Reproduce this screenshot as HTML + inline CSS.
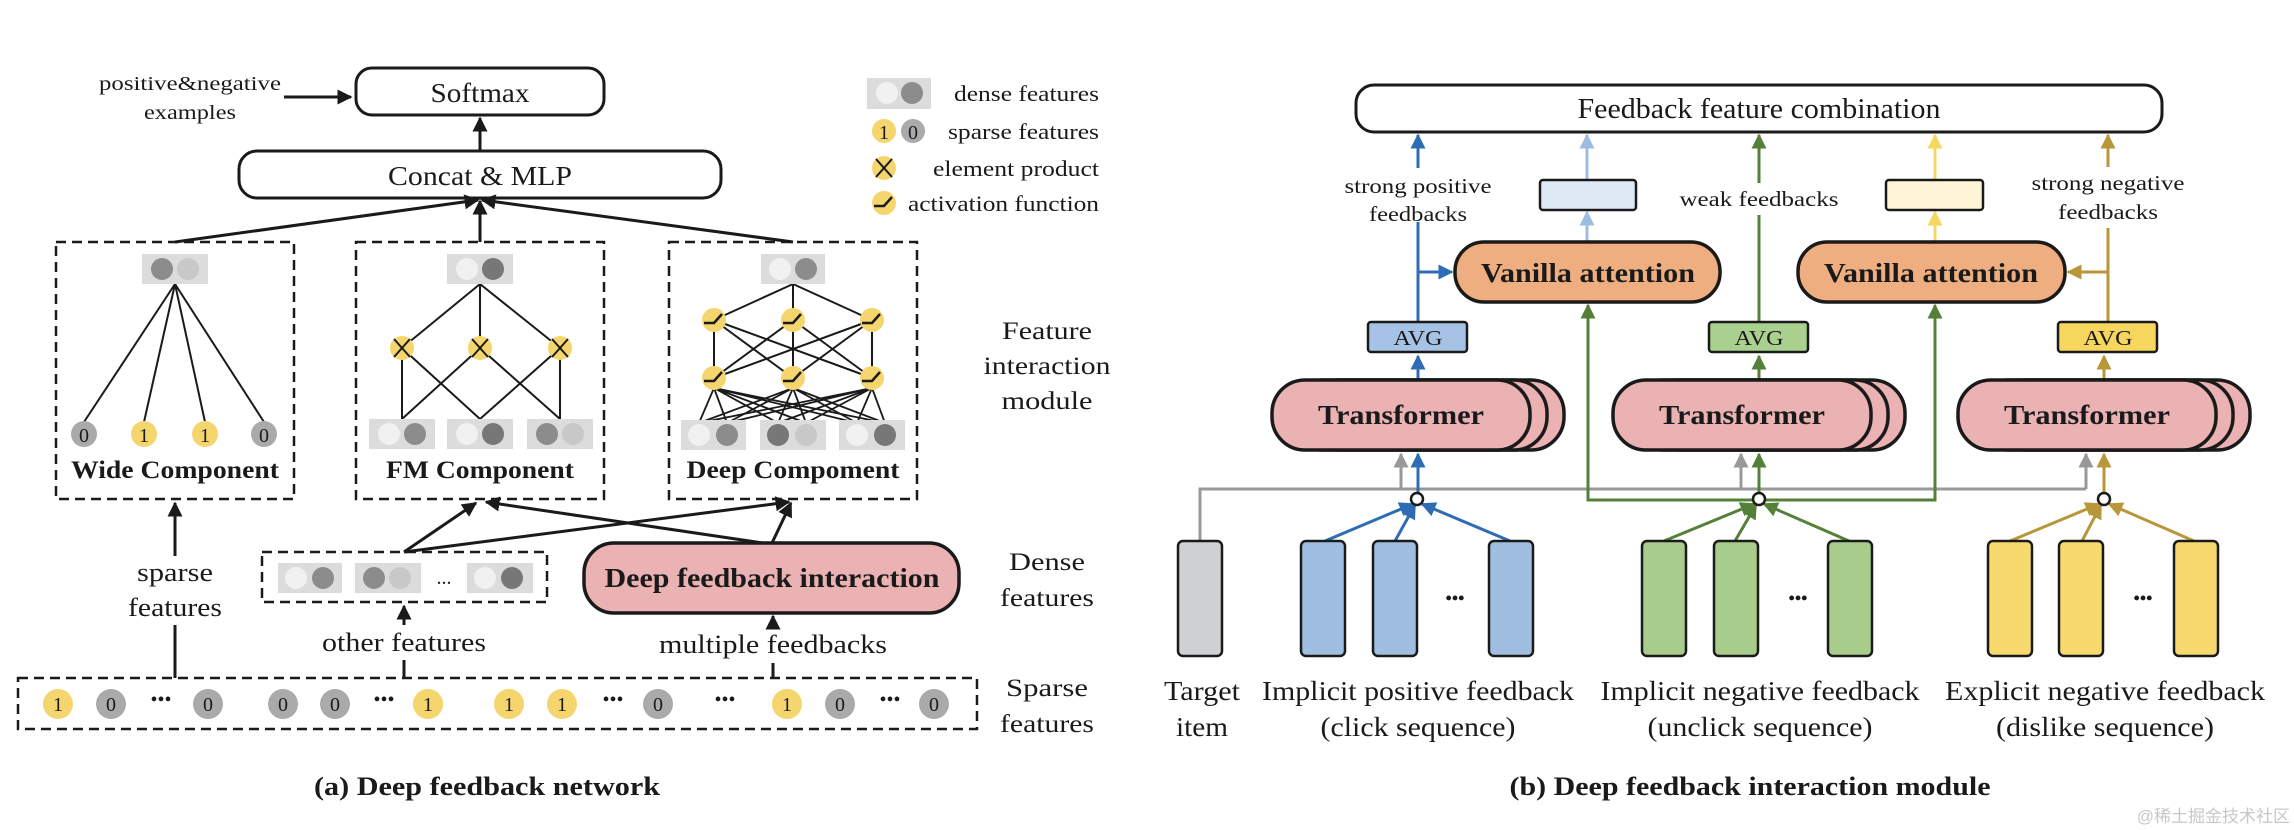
<!DOCTYPE html>
<html><head><meta charset="utf-8"><style>
html,body{margin:0;padding:0;background:#fff;}
svg{display:block;}
text{font-family:"Liberation Serif",serif;fill:#1a1a1a;}
.b{font-weight:bold;}
</style></head><body>
<svg width="2294" height="830" viewBox="0 0 2294 830" xmlns="http://www.w3.org/2000/svg">
<defs>
<marker id="mk" viewBox="0 0 10 10" refX="9" refY="5" markerWidth="5" markerHeight="5" orient="auto"><path d="M0,0 L10,5 L0,10 z" fill="#1a1a1a"/></marker>
<marker id="mbl" viewBox="0 0 10 10" refX="9" refY="5" markerWidth="5" markerHeight="5" orient="auto"><path d="M0,0 L10,5 L0,10 z" fill="#2e6db4"/></marker>
<marker id="mlb" viewBox="0 0 10 10" refX="9" refY="5" markerWidth="5" markerHeight="5" orient="auto"><path d="M0,0 L10,5 L0,10 z" fill="#9dbde0"/></marker>
<marker id="mgr" viewBox="0 0 10 10" refX="9" refY="5" markerWidth="5" markerHeight="5" orient="auto"><path d="M0,0 L10,5 L0,10 z" fill="#55803a"/></marker>
<marker id="mgo" viewBox="0 0 10 10" refX="9" refY="5" markerWidth="5" markerHeight="5" orient="auto"><path d="M0,0 L10,5 L0,10 z" fill="#b8963a"/></marker>
<marker id="mpy" viewBox="0 0 10 10" refX="9" refY="5" markerWidth="5" markerHeight="5" orient="auto"><path d="M0,0 L10,5 L0,10 z" fill="#f5d862"/></marker>
<marker id="mgy" viewBox="0 0 10 10" refX="9" refY="5" markerWidth="5" markerHeight="5" orient="auto"><path d="M0,0 L10,5 L0,10 z" fill="#999"/></marker>
<g id="act"><circle r="12" fill="#f5d56e"/><path d="M-10,3 L0,3 L8,-6" stroke="#1a1a1a" stroke-width="2.5" fill="none"/></g>
<g id="xn"><circle r="12" fill="#f5d56e"/><path d="M-8,-9 L8,9 M8,-9 L-8,9" stroke="#1a1a1a" stroke-width="2" fill="none"/></g>
</defs>

<!-- ============ LEFT PANEL ============ -->
<g stroke="#1a1a1a" stroke-width="3" fill="none">
<rect x="356" y="68" width="248" height="47" rx="16" fill="#fff"/>
<rect x="239" y="151" width="482" height="47" rx="18" fill="#fff"/>
<line x1="480" y1="151" x2="480" y2="118" marker-end="url(#mk)"/>
<line x1="284" y1="97" x2="351" y2="97" marker-end="url(#mk)"/>
<line x1="175" y1="242" x2="478" y2="200" marker-end="url(#mk)"/>
<line x1="480" y1="242" x2="480" y2="201" marker-end="url(#mk)"/>
<line x1="793" y1="242" x2="482" y2="200" marker-end="url(#mk)"/>
</g>
<text x="480" y="102" font-size="27" text-anchor="middle" textLength="99" lengthAdjust="spacingAndGlyphs">Softmax</text>
<text x="480" y="185" font-size="27" text-anchor="middle" textLength="184" lengthAdjust="spacingAndGlyphs">Concat &amp; MLP</text>
<text x="190" y="90" font-size="20" text-anchor="middle" textLength="182" lengthAdjust="spacingAndGlyphs">positive&amp;negative</text>
<text x="190" y="119" font-size="20" text-anchor="middle" textLength="92" lengthAdjust="spacingAndGlyphs">examples</text>

<!-- legend -->
<rect x="867" y="78" width="64" height="31" fill="#dcdcdc"/>
<circle cx="887" cy="93" r="11" fill="#f1f1f1"/><circle cx="912" cy="93" r="11" fill="#8c8c8c"/>
<circle cx="884" cy="131" r="12" fill="#f5d56e"/><text x="884" y="139" font-size="20" text-anchor="middle">1</text>
<circle cx="913" cy="131" r="12" fill="#aaa"/><text x="913" y="139" font-size="20" text-anchor="middle">0</text>
<use href="#xn" x="884" y="168"/>
<use href="#act" x="884" y="203"/>
<text x="1099" y="101" font-size="22" text-anchor="end" textLength="145" lengthAdjust="spacingAndGlyphs">dense features</text>
<text x="1099" y="139" font-size="22" text-anchor="end" textLength="151" lengthAdjust="spacingAndGlyphs">sparse features</text>
<text x="1099" y="176" font-size="22" text-anchor="end" textLength="166" lengthAdjust="spacingAndGlyphs">element product</text>
<text x="1099" y="211" font-size="22" text-anchor="end" textLength="191" lengthAdjust="spacingAndGlyphs">activation function</text>

<!-- component boxes -->
<g stroke="#1a1a1a" stroke-width="2.5" fill="none" stroke-dasharray="10,6">
<rect x="56" y="242" width="238" height="257"/>
<rect x="356" y="242" width="248" height="257"/>
<rect x="669" y="242" width="248" height="257"/>
</g>

<!-- Wide -->
<g stroke="#1a1a1a" stroke-width="2" fill="none">
<line x1="175" y1="284" x2="84" y2="422"/><line x1="175" y1="284" x2="144" y2="422"/>
<line x1="175" y1="284" x2="205" y2="422"/><line x1="175" y1="284" x2="264" y2="422"/>
</g>
<rect x="142" y="254" width="66" height="30" fill="#dcdcdc"/>
<circle cx="162" cy="269" r="11" fill="#8c8c8c"/><circle cx="188" cy="269" r="11" fill="#c8c8c8"/>
<circle cx="84" cy="434" r="13" fill="#aaa"/><text x="84" y="442" font-size="20" text-anchor="middle">0</text>
<circle cx="144" cy="434" r="13" fill="#f5d56e"/><text x="144" y="442" font-size="20" text-anchor="middle">1</text>
<circle cx="205" cy="434" r="13" fill="#f5d56e"/><text x="205" y="442" font-size="20" text-anchor="middle">1</text>
<circle cx="264" cy="434" r="13" fill="#aaa"/><text x="264" y="442" font-size="20" text-anchor="middle">0</text>
<text x="175" y="478" font-size="25" class="b" text-anchor="middle" textLength="208" lengthAdjust="spacingAndGlyphs">Wide Component</text>

<!-- FM -->
<g stroke="#1a1a1a" stroke-width="2" fill="none">
<line x1="480" y1="284" x2="402" y2="348"/><line x1="480" y1="284" x2="480" y2="348"/><line x1="480" y1="284" x2="560" y2="348"/>
<line x1="402" y1="348" x2="402" y2="419"/><line x1="402" y1="348" x2="480" y2="419"/>
<line x1="480" y1="348" x2="402" y2="419"/><line x1="480" y1="348" x2="560" y2="419"/>
<line x1="560" y1="348" x2="560" y2="419"/><line x1="560" y1="348" x2="480" y2="419"/>
</g>
<rect x="447" y="254" width="66" height="30" fill="#dcdcdc"/>
<circle cx="467" cy="269" r="11" fill="#f1f1f1"/><circle cx="493" cy="269" r="11" fill="#777"/>
<use href="#xn" x="402" y="348"/><use href="#xn" x="480" y="348"/><use href="#xn" x="560" y="348"/>
<rect x="369" y="419" width="66" height="30" fill="#dcdcdc"/>
<circle cx="389" cy="434" r="11" fill="#f1f1f1"/><circle cx="415" cy="434" r="11" fill="#8c8c8c"/>
<rect x="447" y="419" width="66" height="30" fill="#dcdcdc"/>
<circle cx="467" cy="434" r="11" fill="#f1f1f1"/><circle cx="493" cy="434" r="11" fill="#777"/>
<rect x="527" y="419" width="66" height="30" fill="#dcdcdc"/>
<circle cx="547" cy="434" r="11" fill="#8c8c8c"/><circle cx="573" cy="434" r="11" fill="#c8c8c8"/>
<text x="480" y="478" font-size="25" class="b" text-anchor="middle" textLength="188" lengthAdjust="spacingAndGlyphs">FM Component</text>

<!-- Deep -->
<g stroke="#1a1a1a" stroke-width="2" fill="none">
<line x1="793" y1="284" x2="714" y2="320"/><line x1="793" y1="284" x2="793" y2="320"/><line x1="793" y1="284" x2="872" y2="320"/>
<line x1="714" y1="320" x2="714" y2="378"/><line x1="714" y1="320" x2="793" y2="378"/><line x1="714" y1="320" x2="872" y2="378"/>
<line x1="793" y1="320" x2="714" y2="378"/><line x1="793" y1="320" x2="793" y2="378"/><line x1="793" y1="320" x2="872" y2="378"/>
<line x1="872" y1="320" x2="714" y2="378"/><line x1="872" y1="320" x2="793" y2="378"/><line x1="872" y1="320" x2="872" y2="378"/>
</g>
<g stroke="#1a1a1a" stroke-width="1.8" fill="none">
<path d="M714,388 L699,423 M714,388 L727,423 M714,388 L778,423 M714,388 L806,423 M714,388 L857,423 M714,388 L885,423"/>
<path d="M793,388 L699,423 M793,388 L727,423 M793,388 L778,423 M793,388 L806,423 M793,388 L857,423 M793,388 L885,423"/>
<path d="M872,388 L699,423 M872,388 L727,423 M872,388 L778,423 M872,388 L806,423 M872,388 L857,423 M872,388 L885,423"/>
</g>
<rect x="761" y="254" width="64" height="30" fill="#dcdcdc"/>
<circle cx="780" cy="269" r="11" fill="#f1f1f1"/><circle cx="806" cy="269" r="11" fill="#8c8c8c"/>
<use href="#act" x="714" y="320"/><use href="#act" x="793" y="320"/><use href="#act" x="872" y="320"/>
<use href="#act" x="714" y="378"/><use href="#act" x="793" y="378"/><use href="#act" x="872" y="378"/>
<rect x="681" y="420" width="65" height="30" fill="#dcdcdc"/>
<circle cx="699" cy="435" r="11" fill="#f1f1f1"/><circle cx="727" cy="435" r="11" fill="#8c8c8c"/>
<rect x="760" y="420" width="66" height="30" fill="#dcdcdc"/>
<circle cx="778" cy="435" r="11" fill="#777"/><circle cx="806" cy="435" r="11" fill="#c8c8c8"/>
<rect x="839" y="420" width="66" height="30" fill="#dcdcdc"/>
<circle cx="857" cy="435" r="11" fill="#f1f1f1"/><circle cx="885" cy="435" r="11" fill="#777"/>
<text x="793" y="478" font-size="25" class="b" text-anchor="middle" textLength="213" lengthAdjust="spacingAndGlyphs">Deep Compoment</text>

<text x="1047" y="339" font-size="25" text-anchor="middle" textLength="90" lengthAdjust="spacingAndGlyphs">Feature</text>
<text x="1047" y="374" font-size="25" text-anchor="middle" textLength="127" lengthAdjust="spacingAndGlyphs">interaction</text>
<text x="1047" y="409" font-size="25" text-anchor="middle" textLength="91" lengthAdjust="spacingAndGlyphs">module</text>

<!-- dense row -->
<g stroke="#1a1a1a" stroke-width="3" fill="none">
<line x1="404" y1="552" x2="476" y2="503" marker-end="url(#mk)"/>
<line x1="404" y1="552" x2="789" y2="502" marker-end="url(#mk)"/>
<line x1="763" y1="543" x2="486" y2="502" marker-end="url(#mk)"/>
<line x1="772" y1="543" x2="791" y2="503" marker-end="url(#mk)"/>
<line x1="175" y1="678" x2="175" y2="625"/>
<line x1="175" y1="556" x2="175" y2="503" marker-end="url(#mk)"/>
<line x1="404" y1="678" x2="404" y2="660"/>
<line x1="404" y1="625" x2="404" y2="606" marker-end="url(#mk)"/>
<line x1="773" y1="678" x2="773" y2="663"/>
<line x1="773" y1="628" x2="773" y2="616" marker-end="url(#mk)"/>
</g>
<rect x="262" y="552" width="285" height="50" fill="none" stroke="#1a1a1a" stroke-width="2.5" stroke-dasharray="10,6"/>
<rect x="278" y="563" width="64" height="30" fill="#dcdcdc"/>
<circle cx="296" cy="578" r="11" fill="#f1f1f1"/><circle cx="323" cy="578" r="11" fill="#8c8c8c"/>
<rect x="355" y="563" width="66" height="30" fill="#dcdcdc"/>
<circle cx="374" cy="578" r="11" fill="#8c8c8c"/><circle cx="400" cy="578" r="11" fill="#c8c8c8"/>
<text x="444" y="584" font-size="20" text-anchor="middle">...</text>
<rect x="467" y="563" width="66" height="30" fill="#dcdcdc"/>
<circle cx="485" cy="578" r="11" fill="#f1f1f1"/><circle cx="512" cy="578" r="11" fill="#777"/>
<rect x="584" y="543" width="375" height="70" rx="30" fill="#ebb2b4" stroke="#1a1a1a" stroke-width="3.5"/>
<text x="772" y="587" font-size="27" class="b" text-anchor="middle" textLength="335" lengthAdjust="spacingAndGlyphs">Deep feedback interaction</text>
<text x="175" y="581" font-size="26" text-anchor="middle" textLength="76" lengthAdjust="spacingAndGlyphs">sparse</text>
<text x="175" y="616" font-size="26" text-anchor="middle" textLength="94" lengthAdjust="spacingAndGlyphs">features</text>
<text x="404" y="651" font-size="26" text-anchor="middle" textLength="164" lengthAdjust="spacingAndGlyphs">other features</text>
<text x="773" y="653" font-size="26" text-anchor="middle" textLength="228" lengthAdjust="spacingAndGlyphs">multiple feedbacks</text>
<text x="1047" y="570" font-size="25" text-anchor="middle" textLength="76" lengthAdjust="spacingAndGlyphs">Dense</text>
<text x="1047" y="606" font-size="25" text-anchor="middle" textLength="94" lengthAdjust="spacingAndGlyphs">features</text>

<!-- sparse row -->
<rect x="18" y="678" width="959" height="51" fill="none" stroke="#1a1a1a" stroke-width="2.5" stroke-dasharray="10,6"/>
<g font-size="20" text-anchor="middle">
<circle cx="58" cy="704" r="15" fill="#f5d56e"/><text x="58" y="711">1</text>
<circle cx="111" cy="704" r="15" fill="#aaa"/><text x="111" y="711">0</text>
<text x="161" y="706">•••</text>
<circle cx="208" cy="704" r="15" fill="#aaa"/><text x="208" y="711">0</text>
<circle cx="283" cy="704" r="15" fill="#aaa"/><text x="283" y="711">0</text>
<circle cx="335" cy="704" r="15" fill="#aaa"/><text x="335" y="711">0</text>
<text x="384" y="706">•••</text>
<circle cx="428" cy="704" r="15" fill="#f5d56e"/><text x="428" y="711">1</text>
<circle cx="509" cy="704" r="15" fill="#f5d56e"/><text x="509" y="711">1</text>
<circle cx="562" cy="704" r="15" fill="#f5d56e"/><text x="562" y="711">1</text>
<text x="613" y="706">•••</text>
<circle cx="658" cy="704" r="15" fill="#aaa"/><text x="658" y="711">0</text>
<text x="725" y="706">•••</text>
<circle cx="787" cy="704" r="15" fill="#f5d56e"/><text x="787" y="711">1</text>
<circle cx="840" cy="704" r="15" fill="#aaa"/><text x="840" y="711">0</text>
<text x="890" y="706">•••</text>
<circle cx="934" cy="704" r="15" fill="#aaa"/><text x="934" y="711">0</text>
</g>
<text x="1047" y="696" font-size="25" text-anchor="middle" textLength="82" lengthAdjust="spacingAndGlyphs">Sparse</text>
<text x="1047" y="732" font-size="25" text-anchor="middle" textLength="94" lengthAdjust="spacingAndGlyphs">features</text>
<text x="487" y="795" font-size="26" class="b" text-anchor="middle" textLength="346" lengthAdjust="spacingAndGlyphs">(a) Deep feedback network</text>

<!-- ============ RIGHT PANEL ============ -->
<rect x="1356" y="85" width="806" height="47" rx="18" fill="#fff" stroke="#1a1a1a" stroke-width="3"/>
<text x="1759" y="118" font-size="28" text-anchor="middle" textLength="363" lengthAdjust="spacingAndGlyphs">Feedback feature combination</text>

<!-- lines -->
<g fill="none" stroke-width="3">
<!-- gray -->
<polyline points="1200,541 1200,489 2086,489" stroke="#999"/>
<line x1="1401" y1="489" x2="1401" y2="454" stroke="#999" marker-end="url(#mgy)"/>
<line x1="1741" y1="489" x2="1741" y2="454" stroke="#999" marker-end="url(#mgy)"/>
<line x1="2086" y1="489" x2="2086" y2="454" stroke="#999" marker-end="url(#mgy)"/>
<!-- green horizontal -->
<polyline points="1588,306 1588,500 1935,500 1935,306" stroke="#55803a"/>
<line x1="1588" y1="330" x2="1588" y2="305" stroke="#55803a" marker-end="url(#mgr)"/>
<line x1="1935" y1="330" x2="1935" y2="305" stroke="#55803a" marker-end="url(#mgr)"/>
<!-- blue -->
<line x1="1418" y1="493" x2="1418" y2="454" stroke="#2e6db4" marker-end="url(#mbl)"/>
<line x1="1418" y1="380" x2="1418" y2="356" stroke="#2e6db4" marker-end="url(#mbl)"/>
<polyline points="1418,322 1418,222" stroke="#2e6db4"/>
<line x1="1418" y1="272" x2="1452" y2="272" stroke="#2e6db4" marker-end="url(#mbl)"/>
<line x1="1418" y1="168" x2="1418" y2="135" stroke="#2e6db4" marker-end="url(#mbl)"/>
<line x1="1325" y1="541" x2="1413" y2="504" stroke="#2e6db4" marker-end="url(#mbl)"/>
<line x1="1395" y1="541" x2="1415" y2="505" stroke="#2e6db4" marker-end="url(#mbl)"/>
<line x1="1510" y1="541" x2="1422" y2="504" stroke="#2e6db4" marker-end="url(#mbl)"/>
<!-- light blue -->
<line x1="1587" y1="242" x2="1587" y2="212" stroke="#9dbde0" marker-end="url(#mlb)"/>
<line x1="1587" y1="179" x2="1587" y2="135" stroke="#9dbde0" marker-end="url(#mlb)"/>
<!-- green -->
<line x1="1759" y1="493" x2="1759" y2="454" stroke="#55803a" marker-end="url(#mgr)"/>
<line x1="1759" y1="380" x2="1759" y2="356" stroke="#55803a" marker-end="url(#mgr)"/>
<line x1="1759" y1="322" x2="1759" y2="215" stroke="#55803a"/>
<line x1="1759" y1="183" x2="1759" y2="135" stroke="#55803a" marker-end="url(#mgr)"/>
<line x1="1664" y1="541" x2="1754" y2="504" stroke="#55803a" marker-end="url(#mgr)"/>
<line x1="1735" y1="541" x2="1756" y2="505" stroke="#55803a" marker-end="url(#mgr)"/>
<line x1="1849" y1="541" x2="1764" y2="504" stroke="#55803a" marker-end="url(#mgr)"/>
<!-- pale yellow -->
<line x1="1935" y1="242" x2="1935" y2="212" stroke="#f5d862" marker-end="url(#mpy)"/>
<line x1="1935" y1="179" x2="1935" y2="135" stroke="#f5d862" marker-end="url(#mpy)"/>
<!-- gold -->
<line x1="2104" y1="493" x2="2104" y2="454" stroke="#b8963a" marker-end="url(#mgo)"/>
<line x1="2104" y1="380" x2="2104" y2="356" stroke="#b8963a" marker-end="url(#mgo)"/>
<polyline points="2108,322 2108,228" stroke="#b8963a"/>
<line x1="2108" y1="272" x2="2068" y2="272" stroke="#b8963a" marker-end="url(#mgo)"/>
<line x1="2108" y1="167" x2="2108" y2="135" stroke="#b8963a" marker-end="url(#mgo)"/>
<line x1="2010" y1="541" x2="2099" y2="504" stroke="#b8963a" marker-end="url(#mgo)"/>
<line x1="2082" y1="541" x2="2101" y2="505" stroke="#b8963a" marker-end="url(#mgo)"/>
<line x1="2194" y1="541" x2="2109" y2="504" stroke="#b8963a" marker-end="url(#mgo)"/>
</g>
<circle cx="1417" cy="499" r="6" fill="#fff" stroke="#1a1a1a" stroke-width="2.5"/>
<circle cx="1759" cy="499" r="6" fill="#fff" stroke="#1a1a1a" stroke-width="2.5"/>
<circle cx="2104" cy="499" r="6" fill="#fff" stroke="#1a1a1a" stroke-width="2.5"/>

<text x="1418" y="193" font-size="21" text-anchor="middle" textLength="147" lengthAdjust="spacingAndGlyphs">strong positive</text>
<text x="1418" y="221" font-size="21" text-anchor="middle" textLength="98" lengthAdjust="spacingAndGlyphs">feedbacks</text>
<text x="1759" y="206" font-size="21" text-anchor="middle" textLength="159" lengthAdjust="spacingAndGlyphs">weak feedbacks</text>
<text x="2108" y="190" font-size="21" text-anchor="middle" textLength="153" lengthAdjust="spacingAndGlyphs">strong negative</text>
<text x="2108" y="219" font-size="21" text-anchor="middle" textLength="100" lengthAdjust="spacingAndGlyphs">feedbacks</text>

<rect x="1540" y="180" width="96" height="30" fill="#dfe9f5" stroke="#1a1a1a" stroke-width="2.5" rx="3"/>
<rect x="1886" y="180" width="97" height="30" fill="#fdf5d6" stroke="#1a1a1a" stroke-width="2.5" rx="3"/>

<rect x="1455" y="242" width="265" height="60" rx="29" fill="#eeae80" stroke="#1a1a1a" stroke-width="3.5"/>
<rect x="1798" y="242" width="267" height="60" rx="29" fill="#eeae80" stroke="#1a1a1a" stroke-width="3.5"/>
<text x="1588" y="282" font-size="27" class="b" text-anchor="middle" textLength="214" lengthAdjust="spacingAndGlyphs">Vanilla attention</text>
<text x="1931" y="282" font-size="27" class="b" text-anchor="middle" textLength="214" lengthAdjust="spacingAndGlyphs">Vanilla attention</text>

<rect x="1368" y="322" width="99" height="30" rx="3" fill="#a6c3e6" stroke="#1a1a1a" stroke-width="2.5"/>
<rect x="1709" y="322" width="99" height="30" rx="3" fill="#a9d08e" stroke="#1a1a1a" stroke-width="2.5"/>
<rect x="2058" y="322" width="99" height="30" rx="3" fill="#f7d65e" stroke="#1a1a1a" stroke-width="2.5"/>
<text x="1418" y="345" font-size="21" text-anchor="middle" textLength="49" lengthAdjust="spacingAndGlyphs">AVG</text>
<text x="1759" y="345" font-size="21" text-anchor="middle" textLength="49" lengthAdjust="spacingAndGlyphs">AVG</text>
<text x="2108" y="345" font-size="21" text-anchor="middle" textLength="49" lengthAdjust="spacingAndGlyphs">AVG</text>

<!-- transformers -->
<g fill="#ebb2b4" stroke="#1a1a1a" stroke-width="3.5">
<rect x="1306" y="380" width="258" height="70" rx="33"/>
<rect x="1289" y="380" width="258" height="70" rx="33"/>
<rect x="1272" y="380" width="258" height="70" rx="33"/>
<rect x="1647" y="380" width="258" height="70" rx="33"/>
<rect x="1630" y="380" width="258" height="70" rx="33"/>
<rect x="1613" y="380" width="258" height="70" rx="33"/>
<rect x="1992" y="380" width="258" height="70" rx="33"/>
<rect x="1975" y="380" width="258" height="70" rx="33"/>
<rect x="1958" y="380" width="258" height="70" rx="33"/>
</g>
<text x="1401" y="424" font-size="27" class="b" text-anchor="middle" textLength="166" lengthAdjust="spacingAndGlyphs">Transformer</text>
<text x="1742" y="424" font-size="27" class="b" text-anchor="middle" textLength="166" lengthAdjust="spacingAndGlyphs">Transformer</text>
<text x="2087" y="424" font-size="27" class="b" text-anchor="middle" textLength="166" lengthAdjust="spacingAndGlyphs">Transformer</text>

<!-- bars -->
<g stroke="#1a1a1a" stroke-width="2.5">
<rect x="1178" y="541" width="44" height="115" rx="5" fill="#cfd0d2"/>
<rect x="1301" y="541" width="44" height="115" rx="5" fill="#a0bfe0"/>
<rect x="1373" y="541" width="44" height="115" rx="5" fill="#a0bfe0"/>
<rect x="1489" y="541" width="44" height="115" rx="5" fill="#a0bfe0"/>
<rect x="1642" y="541" width="44" height="115" rx="5" fill="#a8cc8c"/>
<rect x="1714" y="541" width="44" height="115" rx="5" fill="#a8cc8c"/>
<rect x="1828" y="541" width="44" height="115" rx="5" fill="#a8cc8c"/>
<rect x="1988" y="541" width="44" height="115" rx="5" fill="#f7d96e"/>
<rect x="2059" y="541" width="44" height="115" rx="5" fill="#f7d96e"/>
<rect x="2174" y="541" width="44" height="115" rx="5" fill="#f7d96e"/>
</g>
<g font-size="18" text-anchor="middle" class="b">
<text x="1455" y="604">•••</text><text x="1798" y="604">•••</text><text x="2143" y="604">•••</text>
</g>
<g font-size="27" text-anchor="middle">
<text x="1202" y="700" textLength="76" lengthAdjust="spacingAndGlyphs">Target</text>
<text x="1202" y="736" textLength="52" lengthAdjust="spacingAndGlyphs">item</text>
<text x="1418" y="700" textLength="312" lengthAdjust="spacingAndGlyphs">Implicit positive feedback</text>
<text x="1418" y="736" textLength="195" lengthAdjust="spacingAndGlyphs">(click sequence)</text>
<text x="1760" y="700" textLength="319" lengthAdjust="spacingAndGlyphs">Implicit negative feedback</text>
<text x="1760" y="736" textLength="225" lengthAdjust="spacingAndGlyphs">(unclick sequence)</text>
<text x="2105" y="700" textLength="320" lengthAdjust="spacingAndGlyphs">Explicit negative feedback</text>
<text x="2105" y="736" textLength="218" lengthAdjust="spacingAndGlyphs">(dislike sequence)</text>
</g>
<text x="1750" y="795" font-size="26" class="b" text-anchor="middle" textLength="481" lengthAdjust="spacingAndGlyphs">(b) Deep feedback interaction module</text>
<text x="2290" y="822" font-size="17" text-anchor="end" style="fill:#c8c8c8;font-family:'Liberation Sans','Noto Sans CJK SC',sans-serif">@稀土掘金技术社区</text>
</svg>
</body></html>
